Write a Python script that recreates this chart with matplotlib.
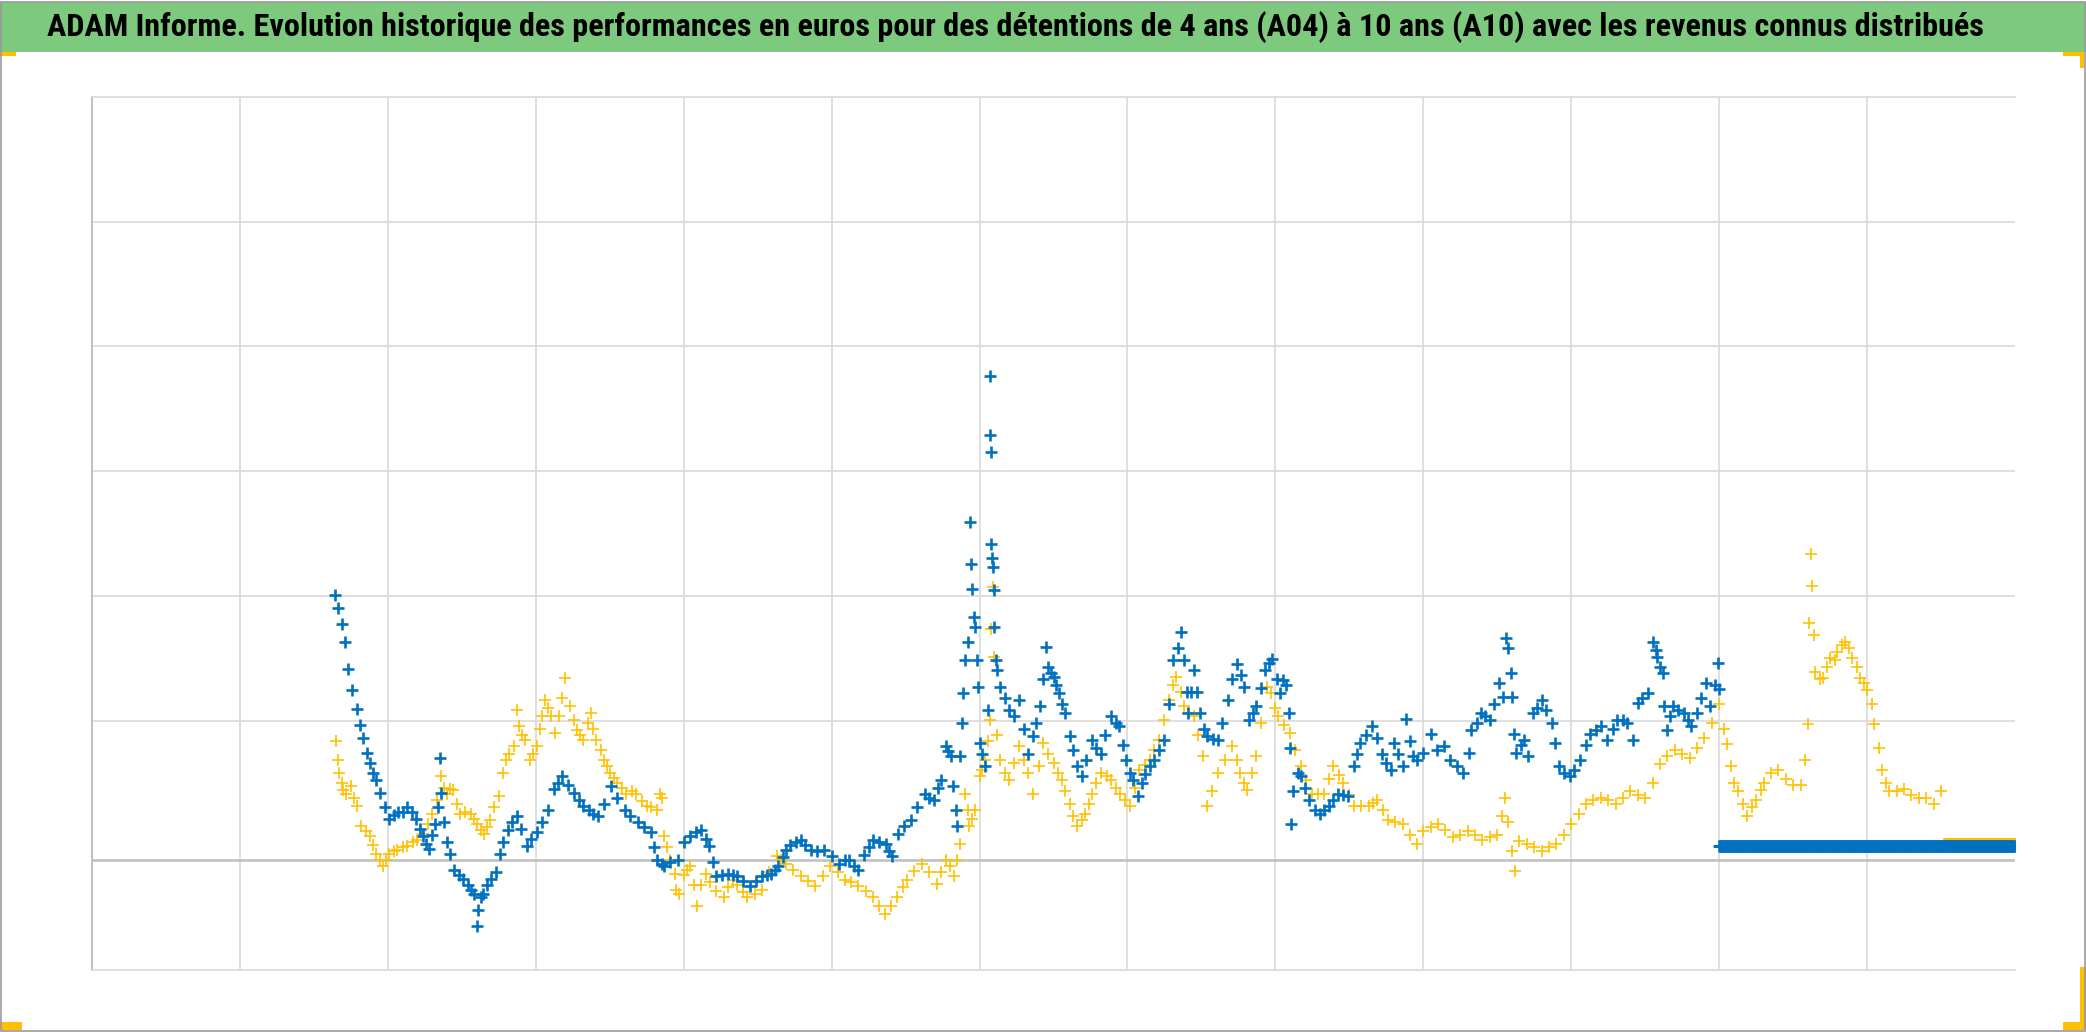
import numpy as np
import matplotlib
matplotlib.use("Agg")
import matplotlib.pyplot as plt
from matplotlib import font_manager
from matplotlib.patches import Rectangle

# ----------------------------
# Data (x in years from the start of the axis, y in grid units, 0 = zero line)
# ----------------------------
TITLE = ("ADAM Informe. Evolution historique des performances en euros pour des "
         "détentions de 4 ans (A04) à 10 ans (A10) avec les revenus connus distribués")

blue_points = [
    (1.64, 2.12), (1.66, 2.02), (1.69, 1.89), (1.71, 1.75), (1.73, 1.53), (1.76, 1.36),
    (1.79, 1.21), (1.81, 1.08), (1.83, 0.98), (1.86, 0.86), (1.88, 0.78), (1.90, 0.70),
    (1.92, 0.64), (1.95, 0.54), (1.98, 0.42), (2.01, 0.33), (2.04, 0.36), (2.07, 0.38),
    (2.10, 0.38), (2.13, 0.42), (2.16, 0.38), (2.19, 0.33), (2.22, 0.25), (2.24, 0.19),
    (2.26, 0.13), (2.28, 0.09), (2.30, 0.20), (2.32, 0.29), (2.34, 0.42), (2.355, 0.82),
    (2.36, 0.54), (2.38, 0.30), (2.40, 0.14), (2.42, 0.05), (2.45, -0.08), (2.48, -0.12),
    (2.51, -0.15), (2.54, -0.20), (2.56, -0.24), (2.58, -0.27), (2.60, -0.53), (2.61, -0.40),
    (2.63, -0.30), (2.64, -0.27), (2.67, -0.20), (2.70, -0.15), (2.73, -0.10), (2.76, 0.05),
    (2.78, 0.14), (2.81, 0.24), (2.84, 0.30), (2.87, 0.35), (2.90, 0.25), (2.94, 0.11),
    (2.97, 0.17), (3.01, 0.22), (3.04, 0.30), (3.08, 0.40), (3.12, 0.57), (3.15, 0.62),
    (3.18, 0.67), (3.22, 0.60), (3.26, 0.54), (3.29, 0.48), (3.32, 0.43), (3.36, 0.40),
    (3.39, 0.37), (3.42, 0.35), (3.46, 0.45), (3.51, 0.59), (3.55, 0.50), (3.60, 0.40),
    (3.64, 0.35), (3.69, 0.30), (3.73, 0.26), (3.78, 0.22), (3.80, 0.10), (3.82, 0.00),
    (3.85, -0.03), (3.87, -0.05), (3.91, -0.02), (3.96, 0.00), (4.00, 0.14), (4.04, 0.19),
    (4.08, 0.22), (4.12, 0.24), (4.15, 0.17), (4.17, 0.11), (4.20, -0.02), (4.22, -0.13),
    (4.26, -0.12), (4.30, -0.11), (4.33, -0.12), (4.36, -0.13), (4.40, -0.17), (4.45, -0.21),
    (4.49, -0.17), (4.53, -0.13), (4.56, -0.12), (4.59, -0.11), (4.62, -0.08), (4.64, -0.05),
    (4.67, 0.02), (4.69, 0.08), (4.72, 0.12), (4.76, 0.14), (4.79, 0.16), (4.82, 0.12),
    (4.86, 0.08), (4.90, 0.07), (4.95, 0.08), (5.00, 0.03), (5.05, -0.03), (5.09, 0.00),
    (5.12, 0.00), (5.15, -0.05), (5.18, -0.08), (5.22, 0.04), (5.25, 0.10), (5.28, 0.16),
    (5.32, 0.14), (5.37, 0.13), (5.39, 0.07), (5.41, 0.03), (5.45, 0.21), (5.49, 0.27),
    (5.54, 0.32), (5.58, 0.42), (5.63, 0.53), (5.66, 0.50), (5.69, 0.48), (5.72, 0.58),
    (5.74, 0.64), (5.77, 0.91), (5.79, 0.87), (5.81, 0.83), (5.82, 0.59), (5.84, 0.40),
    (5.85, 0.27), (5.87, 0.83), (5.88, 1.10), (5.89, 1.34), (5.90, 1.60), (5.92, 1.75),
    (5.935, 2.71), (5.94, 2.37), (5.95, 2.17), (5.96, 1.95), (5.97, 1.87), (5.98, 1.60),
    (5.99, 1.39), (6.00, 0.94), (6.02, 0.85), (6.04, 0.75), (6.06, 1.20), (6.07, 3.88),
    (6.072, 3.41), (6.075, 3.27), (6.08, 2.53), (6.085, 2.42), (6.09, 2.35), (6.095, 2.16),
    (6.10, 1.87), (6.11, 1.60), (6.12, 1.52), (6.14, 1.39), (6.17, 1.30), (6.20, 1.20),
    (6.23, 1.15), (6.27, 1.28), (6.30, 1.05), (6.33, 0.85), (6.36, 0.99), (6.38, 1.10),
    (6.41, 1.23), (6.43, 1.45), (6.45, 1.71), (6.46, 1.55), (6.48, 1.50), (6.50, 1.47),
    (6.52, 1.40), (6.54, 1.34), (6.56, 1.25), (6.58, 1.18), (6.61, 0.99), (6.63, 0.88),
    (6.66, 0.75), (6.69, 0.67), (6.72, 0.80), (6.76, 0.96), (6.79, 0.90), (6.82, 0.85),
    (6.85, 1.00), (6.89, 1.15), (6.92, 1.10), (6.94, 1.07), (6.97, 0.92), (6.99, 0.80),
    (7.02, 0.70), (7.04, 0.64), (7.07, 0.51), (7.10, 0.62), (7.12, 0.69), (7.15, 0.75),
    (7.18, 0.80), (7.21, 0.88), (7.25, 0.96), (7.28, 1.25), (7.31, 1.60), (7.34, 1.70),
    (7.36, 1.83), (7.38, 1.60), (7.40, 1.35), (7.41, 1.18), (7.43, 1.35), (7.45, 1.52),
    (7.47, 1.35), (7.49, 1.18), (7.52, 1.05), (7.54, 0.99), (7.58, 0.97), (7.61, 0.96),
    (7.64, 1.10), (7.68, 1.28), (7.71, 1.45), (7.74, 1.57), (7.77, 1.48), (7.79, 1.39),
    (7.82, 1.12), (7.85, 1.18), (7.87, 1.23), (7.90, 1.38), (7.93, 1.52), (7.96, 1.58),
    (7.98, 1.61), (8.01, 1.45), (8.03, 1.34), (8.05, 1.44), (8.07, 1.40), (8.09, 1.18),
    (8.10, 0.90), (8.105, 0.29), (8.12, 0.55), (8.15, 0.70), (8.17, 0.67), (8.20, 0.58),
    (8.23, 0.48), (8.27, 0.40), (8.30, 0.37), (8.33, 0.40), (8.36, 0.43), (8.39, 0.48),
    (8.42, 0.53), (8.46, 0.52), (8.49, 0.51), (8.53, 0.75), (8.55, 0.85), (8.57, 0.94),
    (8.61, 1.00), (8.65, 1.07), (8.69, 0.98), (8.72, 0.85), (8.75, 0.78), (8.78, 0.72),
    (8.80, 0.94), (8.83, 0.85), (8.86, 0.75), (8.88, 1.13), (8.91, 0.95), (8.93, 0.83),
    (8.96, 0.80), (9.00, 0.86), (9.05, 1.01), (9.09, 0.88), (9.14, 0.91), (9.18, 0.80),
    (9.23, 0.75), (9.27, 0.70), (9.31, 0.86), (9.32, 1.04), (9.36, 1.10), (9.39, 1.18),
    (9.42, 1.15), (9.45, 1.12), (9.48, 1.25), (9.51, 1.42), (9.54, 1.31), (9.56, 1.78),
    (9.57, 1.70), (9.59, 1.50), (9.60, 1.31), (9.61, 1.01), (9.63, 0.86), (9.66, 0.92),
    (9.68, 0.96), (9.71, 0.83), (9.74, 1.18), (9.77, 1.22), (9.80, 1.28), (9.83, 1.20),
    (9.87, 1.10), (9.89, 0.94), (9.92, 0.75), (9.95, 0.70), (9.99, 0.67), (10.02, 0.72),
    (10.06, 0.80), (10.10, 0.92), (10.13, 1.01), (10.17, 1.04), (10.20, 1.07), (10.24, 0.96),
    (10.28, 1.05), (10.31, 1.12), (10.35, 1.12), (10.38, 1.10), (10.42, 0.96), (10.45, 1.26),
    (10.48, 1.30), (10.52, 1.34), (10.55, 1.75), (10.57, 1.68), (10.58, 1.63), (10.60, 1.55),
    (10.62, 1.50), (10.63, 1.23), (10.65, 1.04), (10.67, 1.15), (10.69, 1.23), (10.72, 1.20),
    (10.76, 1.18), (10.79, 1.12), (10.81, 1.07), (10.85, 1.18), (10.88, 1.30), (10.91, 1.42),
    (10.94, 1.23), (10.97, 1.40), (10.99, 1.58), (11.00, 1.37),
]

yellow_points = [
    (1.65, 0.95), (1.66, 0.80), (1.67, 0.70), (1.69, 0.62), (1.70, 0.56), (1.72, 0.53),
    (1.75, 0.59), (1.77, 0.50), (1.79, 0.43), (1.82, 0.27), (1.85, 0.23), (1.88, 0.19),
    (1.90, 0.12), (1.92, 0.05), (1.95, 0.00), (1.97, -0.05), (1.99, 0.00), (2.01, 0.05),
    (2.04, 0.07), (2.06, 0.08), (2.10, 0.10), (2.13, 0.11), (2.17, 0.14), (2.20, 0.16),
    (2.24, 0.21), (2.27, 0.29), (2.30, 0.37), (2.33, 0.48), (2.36, 0.67), (2.38, 0.58),
    (2.40, 0.53), (2.42, 0.57), (2.44, 0.56), (2.47, 0.45), (2.49, 0.37), (2.52, 0.38),
    (2.56, 0.37), (2.58, 0.33), (2.60, 0.29), (2.63, 0.24), (2.65, 0.21), (2.67, 0.26),
    (2.69, 0.32), (2.72, 0.42), (2.75, 0.51), (2.78, 0.70), (2.80, 0.80), (2.82, 0.85),
    (2.85, 0.91), (2.87, 1.20), (2.89, 1.07), (2.91, 1.00), (2.93, 0.96), (2.96, 0.80),
    (2.98, 0.85), (3.01, 0.91), (3.03, 1.05), (3.04, 1.15), (3.06, 1.28), (3.08, 1.22),
    (3.10, 1.15), (3.13, 1.02), (3.16, 1.15), (3.18, 1.30), (3.20, 1.46), (3.23, 1.23),
    (3.26, 1.12), (3.28, 1.04), (3.30, 1.00), (3.32, 0.96), (3.35, 1.10), (3.37, 1.18),
    (3.39, 1.05), (3.41, 0.96), (3.44, 0.88), (3.46, 0.80), (3.48, 0.75), (3.50, 0.70),
    (3.53, 0.66), (3.55, 0.62), (3.58, 0.58), (3.61, 0.53), (3.65, 0.55), (3.68, 0.53),
    (3.72, 0.47), (3.75, 0.43), (3.78, 0.42), (3.82, 0.40), (3.84, 0.53), (3.85, 0.50),
    (3.87, 0.19), (3.89, 0.10), (3.91, 0.00), (3.94, -0.11), (3.95, -0.24), (3.97, -0.27),
    (4.00, -0.12), (4.02, -0.08), (4.04, -0.05), (4.07, -0.20), (4.09, -0.37), (4.12, -0.20),
    (4.15, -0.11), (4.18, -0.18), (4.22, -0.25), (4.27, -0.30), (4.30, -0.22), (4.33, -0.16),
    (4.36, -0.20), (4.40, -0.26), (4.43, -0.30), (4.48, -0.27), (4.53, -0.24), (4.58, -0.10),
    (4.63, 0.03), (4.66, 0.00), (4.69, -0.03), (4.74, -0.08), (4.79, -0.13), (4.84, -0.17),
    (4.89, -0.21), (4.94, -0.13), (4.99, -0.05), (5.04, -0.10), (5.09, -0.16), (5.13, -0.18),
    (5.18, -0.21), (5.23, -0.25), (5.28, -0.30), (5.32, -0.37), (5.36, -0.43), (5.40, -0.37),
    (5.44, -0.30), (5.48, -0.22), (5.51, -0.16), (5.56, -0.09), (5.61, -0.03), (5.66, -0.10),
    (5.71, -0.19), (5.74, -0.10), (5.77, 0.00), (5.80, -0.05), (5.83, -0.13), (5.85, 0.00),
    (5.87, 0.13), (5.90, 0.53), (5.92, 0.40), (5.93, 0.27), (5.95, 0.33), (5.97, 0.40),
    (6.00, 0.67), (6.02, 0.72), (6.04, 0.80), (6.06, 0.95), (6.07, 1.12), (6.08, 1.85),
    (6.09, 2.19), (6.10, 1.63), (6.12, 1.00), (6.14, 0.80), (6.17, 0.70), (6.20, 0.64),
    (6.23, 0.78), (6.27, 0.91), (6.30, 0.80), (6.33, 0.70), (6.36, 0.53), (6.40, 0.75),
    (6.43, 0.94), (6.46, 0.85), (6.50, 0.78), (6.53, 0.70), (6.56, 0.64), (6.58, 0.55),
    (6.61, 0.45), (6.63, 0.35), (6.66, 0.27), (6.69, 0.32), (6.71, 0.37), (6.74, 0.45),
    (6.76, 0.53), (6.79, 0.62), (6.82, 0.70), (6.86, 0.67), (6.89, 0.64), (6.92, 0.58),
    (6.95, 0.53), (6.98, 0.48), (7.02, 0.43), (7.05, 0.58), (7.08, 0.72), (7.12, 0.76),
    (7.15, 0.80), (7.18, 0.88), (7.21, 0.96), (7.25, 1.12), (7.28, 1.28), (7.31, 1.40),
    (7.33, 1.47), (7.36, 1.35), (7.38, 1.23), (7.41, 1.18), (7.45, 1.15), (7.48, 1.00),
    (7.51, 0.83), (7.54, 0.43), (7.57, 0.55), (7.61, 0.70), (7.66, 0.80), (7.71, 0.91),
    (7.74, 0.80), (7.76, 0.70), (7.79, 0.62), (7.81, 0.56), (7.84, 0.70), (7.87, 0.83),
    (7.90, 1.10), (7.94, 1.39), (7.97, 1.34), (8.00, 1.22), (8.02, 1.15), (8.06, 1.08),
    (8.10, 1.02), (8.13, 0.88), (8.17, 0.75), (8.21, 0.64), (8.25, 0.53), (8.29, 0.53),
    (8.33, 0.53), (8.36, 0.65), (8.39, 0.75), (8.43, 0.68), (8.46, 0.62), (8.50, 0.52),
    (8.53, 0.43), (8.58, 0.43), (8.63, 0.43), (8.66, 0.46), (8.69, 0.48), (8.73, 0.40),
    (8.76, 0.32), (8.81, 0.30), (8.86, 0.29), (8.91, 0.20), (8.96, 0.13), (9.00, 0.23),
    (9.05, 0.26), (9.10, 0.29), (9.15, 0.24), (9.20, 0.18), (9.25, 0.20), (9.30, 0.23),
    (9.35, 0.20), (9.40, 0.16), (9.45, 0.18), (9.50, 0.20), (9.53, 0.35), (9.55, 0.50),
    (9.57, 0.30), (9.60, 0.07), (9.62, -0.09), (9.65, 0.15), (9.70, 0.13), (9.75, 0.10),
    (9.80, 0.07), (9.85, 0.10), (9.90, 0.13), (9.95, 0.20), (10.00, 0.29), (10.05, 0.37),
    (10.10, 0.45), (10.15, 0.48), (10.20, 0.50), (10.25, 0.48), (10.30, 0.45), (10.35, 0.50),
    (10.40, 0.55), (10.45, 0.52), (10.50, 0.50), (10.55, 0.62), (10.60, 0.77), (10.65, 0.83),
    (10.70, 0.88), (10.75, 0.85), (10.80, 0.82), (10.85, 0.90), (10.90, 0.98), (10.95, 1.10),
    (11.00, 1.25), (11.03, 1.05), (11.05, 0.93), (11.08, 0.75), (11.10, 0.62), (11.13, 0.55),
    (11.16, 0.45), (11.19, 0.35), (11.22, 0.42), (11.25, 0.48), (11.28, 0.56), (11.30, 0.62),
    (11.35, 0.70), (11.40, 0.72), (11.45, 0.65), (11.50, 0.60), (11.55, 0.60), (11.58, 0.80),
    (11.60, 1.09), (11.61, 1.90), (11.62, 2.45), (11.63, 2.20), (11.64, 1.80), (11.65, 1.51),
    (11.68, 1.45), (11.70, 1.46), (11.73, 1.55), (11.75, 1.62), (11.78, 1.60), (11.80, 1.67),
    (11.83, 1.72), (11.85, 1.75), (11.88, 1.70), (11.90, 1.62), (11.93, 1.55), (11.95, 1.46),
    (11.98, 1.42), (12.00, 1.36), (12.03, 1.25), (12.05, 1.09), (12.08, 0.90), (12.10, 0.72),
    (12.13, 0.62), (12.15, 0.55), (12.20, 0.55), (12.25, 0.57), (12.30, 0.52), (12.35, 0.50),
    (12.40, 0.50), (12.45, 0.45), (12.50, 0.55),
]

# flat tails (no more known revenue): start, end, value
blue_flat = (11.0, 13.0, 0.115)
yellow_flat = (12.52, 13.0, 0.125)
DAYS_PER_YEAR = 250

# ----------------------------
# Layout (pixels of the 2086x1032 picture)
# ----------------------------
W, H = 2086, 1032
PLOT_L, PLOT_R, PLOT_T, PLOT_B = 92, 2015, 97, 970
Y_MIN = -0.883
N_YEARS = 13

BLUE = "#0070C0"
GOLD = "#FFC000"
GRID = "#D9D9D9"
AXIS = "#BFBFBF"
BAR_GREEN = "#7DC97D"


def px_rect(fig, x, y, w, h, color):
    fig.add_artist(Rectangle((x / W, 1 - (y + h) / H), w / W, h / H,
                             transform=fig.transFigure, facecolor=color,
                             edgecolor="none", zorder=5))


def pick_title_font():
    fonts = font_manager.fontManager.ttflist
    names = {f.name for f in fonts}
    for cand in ["Liberation Sans Narrow", "Roboto Condensed", "Open Sans Condensed"]:
        if cand in names:
            return cand, "normal"
    if any(f.name == "DejaVu Sans" and "ondensed" in str(f.stretch) for f in fonts):
        return "DejaVu Sans", "condensed"
    return "Lato", "normal"


fig = plt.figure(figsize=(W / 100, H / 100), dpi=100)
fig.patch.set_facecolor("white")

# title bar
px_rect(fig, 0, 2, W, 50, BAR_GREEN)
family, stretch = pick_title_font()
title = fig.text((40 + 1990) / 2 / W, 1 - 27 / H, TITLE, ha="center", va="center",
                 fontsize=24, fontweight="bold", family=family, fontstretch=stretch,
                 color="black", zorder=6)
fig.canvas.draw()
bb = title.get_window_extent()
title.set_fontsize(24 * 1950 / bb.width)

# plot area
ax = fig.add_axes([PLOT_L / W, 1 - PLOT_B / H, (PLOT_R - PLOT_L) / W, (PLOT_B - PLOT_T) / H])
ax.set_xlim(0, N_YEARS)
ax.set_ylim(Y_MIN, Y_MIN + 7)
ax.set_xticks(np.arange(1, N_YEARS))
ax.set_yticks(Y_MIN + np.arange(2, 7))
ax.grid(True, color=GRID, linewidth=1.2)
ax.set_axisbelow(True)
ax.tick_params(length=0, labelleft=False, labelbottom=False)
for side in ["top", "bottom"]:
    ax.spines[side].set_color(GRID)
    ax.spines[side].set_linewidth(1.2)
ax.spines["left"].set_color(AXIS)
ax.spines["left"].set_linewidth(1.4)
ax.spines["right"].set_visible(False)
ax.axhline(0, color=AXIS, linewidth=1.8, zorder=1)

yx, yy = zip(*yellow_points)
bx, by = zip(*blue_points)

yf_x = np.arange(yellow_flat[0], yellow_flat[1], 1 / DAYS_PER_YEAR)
bf_x = np.arange(blue_flat[0], blue_flat[1], 1 / DAYS_PER_YEAR)

gold_style = dict(linestyle="none", marker="+", markersize=8.5, markeredgewidth=1.2,
                  color=GOLD, zorder=3)
blue_style = dict(linestyle="none", marker="+", markersize=8, markeredgewidth=1.9,
                  color=BLUE, zorder=4)

ax.plot(yx, yy, **gold_style)
ax.plot(yf_x, np.full(len(yf_x), yellow_flat[2]), **gold_style)
ax.plot(bx, by, **blue_style)
ax.plot(bf_x, np.full(len(bf_x), blue_flat[2]), **blue_style)

# selection handles in the corners
px_rect(fig, 0, 52, 16, 4, GOLD)
px_rect(fig, 2063, 52, 21, 4, GOLD)
px_rect(fig, 2080, 52, 4, 16, GOLD)
px_rect(fig, 0, 1022, 22, 8, GOLD)
px_rect(fig, 2063, 1022, 23, 8, GOLD)
px_rect(fig, 2080, 967, 6, 63, GOLD)

# outer frame
fig.add_artist(Rectangle((0.5 / W, 1.5 / H), (W - 2) / W, (H - 3) / H,
                         transform=fig.transFigure, facecolor="none",
                         edgecolor="#9A9A9A", linewidth=1.2, zorder=7))

fig.savefig("out.png", dpi=100)
